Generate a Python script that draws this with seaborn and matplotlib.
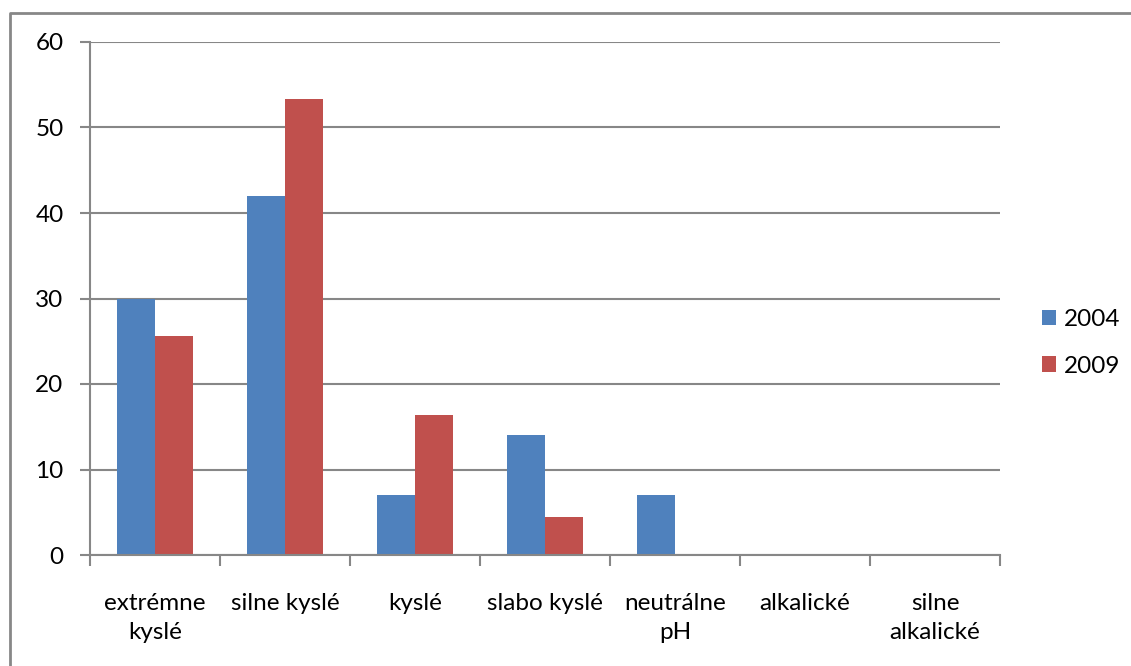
import matplotlib
matplotlib.use("Agg")
import matplotlib.pyplot as plt
from matplotlib.lines import Line2D
from matplotlib.patches import Patch
import seaborn as sns
import pandas as pd

categories = ["extrémne\nkyslé", "silne kyslé", "kyslé", "slabo kyslé",
              "neutrálne\npH", "alkalické", "silne\nalkalické"]
values_2004 = [30, 42, 7, 14, 7, 0, 0]
values_2009 = [25.6, 53.3, 16.4, 4.5, 0, 0, 0]
years = ["2004", "2009"]
colors = ["#4F81BD", "#C0504D"]

df = pd.DataFrame({
    "kategória": categories * 2,
    "hodnota": values_2004 + values_2009,
    "rok": [years[0]] * len(categories) + [years[1]] * len(categories),
})

sns.set_theme(style="white")
plt.rcParams["font.family"] = ["Lato", "DejaVu Sans"]
plt.rcParams["text.color"] = "black"

fs = 17.5
grid_col = "#878787"
fig = plt.figure(figsize=(11.31, 6.66), dpi=100)
ax = fig.add_axes([90 / 1131, 1 - 555 / 666, 910 / 1131, 513 / 666])

sns.barplot(data=df, x="kategória", y="hodnota", hue="rok", palette=colors,
            width=0.577, gap=0, dodge=True, ax=ax, legend=False,
            saturation=1, linewidth=0, errorbar=None)

ax.set_ylim(0, 60)
ax.set_xlim(-0.5, len(categories) - 0.5)
ax.set_yticks(range(0, 61, 10))
ax.set_xlabel("")
ax.set_ylabel("")
ax.yaxis.grid(True, color=grid_col, linewidth=1.5)
ax.set_axisbelow(True)
for s in ["top", "right"]:
    ax.spines[s].set_visible(False)
for s in ["left", "bottom"]:
    ax.spines[s].set_color(grid_col)
    ax.spines[s].set_linewidth(1.5)

# category boundary ticks on the x axis
ax.set_xticks([i + 0.5 for i in range(-1, len(categories))], minor=True)
ax.tick_params(axis="x", which="minor", length=8, width=1.5, color=grid_col,
               bottom=True)
ax.tick_params(axis="x", which="major", length=0, pad=27, labelsize=fs,
               labelcolor="black")
ax.tick_params(axis="y", length=7, width=1.5, color=grid_col, left=True,
               pad=12, labelsize=fs, labelcolor="black")
for lbl in ax.get_xticklabels():
    lbl.set_linespacing(1.5)
    lbl.set_horizontalalignment("center")

handles = [Patch(facecolor=c, edgecolor="none") for c in colors]
fig.legend(handles, years, loc="center left", bbox_to_anchor=(1020 / 1131, 1 - 343 / 666),
           frameon=False, fontsize=fs, handlelength=0.6, handleheight=0.6,
           handletextpad=0.3, labelspacing=1.05)

# outer chart border (top and left edges)
fig.add_artist(Line2D([10 / 1131, 10 / 1131, 1.0], [0.0, 1 - 13 / 666, 1 - 13 / 666],
                      transform=fig.transFigure, color=grid_col, linewidth=2))

fig.savefig("out.png", dpi=100)
